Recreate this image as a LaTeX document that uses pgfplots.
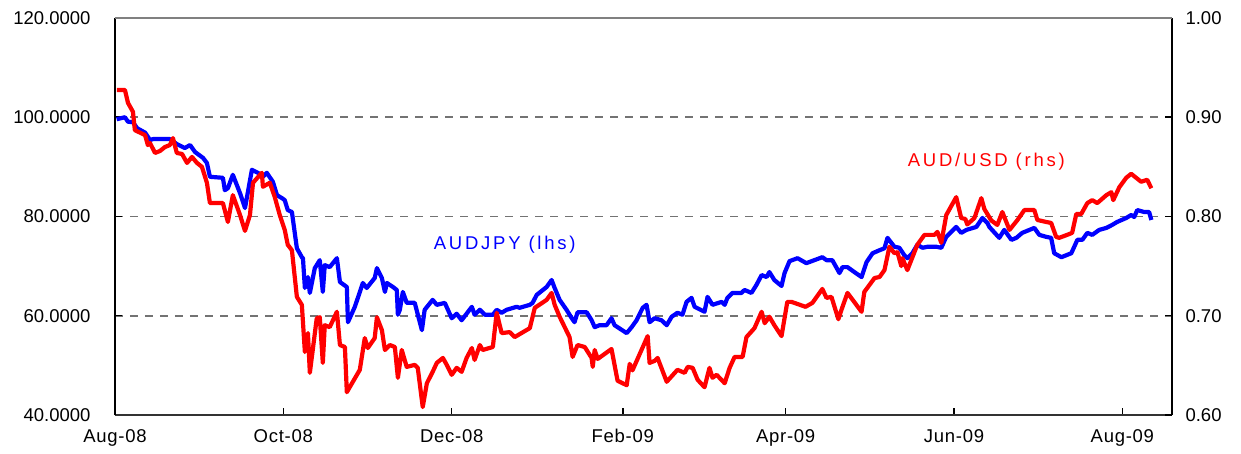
\documentclass[border=0pt]{standalone}
\usepackage{pgfplots}
\pgfplotsset{compat=1.18}
\usepackage{pgfplotstable}
\usepackage{fontspec}
\setmainfont{Liberation Sans}

% days since 1 Aug 2008, AUDJPY (lhs)
\pgfplotstableread{
d v
0.6 99.6
3.6 100.0
4.7 99.1
6.5 99.0
8.0 97.8
10.9 96.9
12.7 95.4
13.8 95.6
19.9 95.6
22.4 94.6
25.3 93.8
27.2 94.4
29.0 93.0
31.9 91.8
33.3 90.8
34.4 88.0
39.1 87.8
39.8 85.3
40.9 85.7
42.7 88.4
45.3 84.7
47.1 81.7
49.6 89.4
51.8 88.8
53.6 88.0
55.0 88.8
57.2 87.0
58.7 84.3
60.5 83.7
61.5 83.3
62.6 81.3
64.1 80.9
65.9 73.6
67.7 71.8
68.1 71.6
68.8 65.6
69.9 67.8
70.6 64.6
72.4 69.6
74.2 71.2
75.3 64.8
76.0 70.2
77.8 69.8
80.4 71.6
81.5 66.8
84.0 65.8
84.4 58.7
86.9 61.8
89.8 66.6
91.2 65.6
94.1 67.6
94.9 69.6
96.7 67.6
97.8 64.8
98.5 66.6
100.7 65.8
102.1 65.2
102.5 60.2
103.2 61.2
104.3 64.8
105.7 62.6
108.6 62.6
111.2 57.1
112.2 61.2
115.1 63.2
116.6 62.2
119.5 62.6
122.0 59.5
123.8 60.4
125.6 59.1
129.3 61.8
130.3 60.2
132.2 61.2
134.0 60.2
136.9 60.2
138.3 61.2
140.1 60.6
141.9 61.2
145.5 61.8
146.6 61.6
150.3 62.2
151.3 62.6
152.8 64.2
156.4 65.8
158.2 67.2
159.3 65.6
161.1 63.2
163.6 61.2
165.5 59.5
166.5 58.7
167.6 60.7
170.9 60.7
172.7 59.1
173.8 57.7
175.6 58.1
178.1 58.1
179.9 59.5
181.0 58.1
182.1 57.7
185.4 56.5
187.2 57.7
189.0 59.1
191.2 61.6
192.6 62.2
193.7 58.7
195.5 59.5
198.0 59.1
199.9 58.1
201.7 59.8
203.8 60.6
205.6 60.2
207.1 62.8
208.9 63.6
210.0 61.8
213.6 60.8
214.7 63.8
216.5 62.2
219.8 62.8
220.9 62.2
221.9 63.6
223.7 64.6
227.0 64.6
228.1 65.2
230.6 64.6
232.4 66.2
234.3 68.2
236.1 67.8
237.1 68.8
238.9 67.2
241.5 66.0
242.6 68.6
244.4 71.0
247.3 71.6
250.5 70.6
256.3 71.8
257.8 71.2
259.9 71.2
262.5 68.6
263.6 69.8
265.4 69.8
267.9 68.8
270.5 67.8
272.3 70.8
274.5 72.6
277.0 73.2
278.8 73.6
279.9 75.7
282.4 73.9
284.2 73.7
286.0 72.2
287.1 71.6
288.9 72.6
290.7 74.3
292.6 73.7
294.4 73.9
297.6 73.9
299.4 73.7
301.2 75.9
304.8 77.9
306.6 76.7
308.5 77.3
312.1 77.9
314.3 79.7
316.1 78.7
316.8 77.9
320.4 75.7
322.2 77.3
324.8 75.3
326.6 75.7
328.7 76.7
333.1 77.7
334.9 76.3
337.4 75.9
339.2 75.7
340.3 72.6
342.9 71.8
346.5 72.6
348.7 75.3
350.5 75.3
352.3 76.7
354.1 76.3
356.6 77.3
359.2 77.7
361.3 78.3
363.1 78.9
366.4 79.7
368.2 80.3
369.3 79.9
370.4 81.3
372.9 80.9
374.7 80.9
375.5 79.3
}\audjpy

% days since 1 Aug 2008, AUD/USD (rhs)
\pgfplotstableread{
d v
0.7 0.9275
3.6 0.9275
4.7 0.9145
6.5 0.9055
7.2 0.8870
10.9 0.8820
11.9 0.8720
12.7 0.8740
14.5 0.8640
16.3 0.8660
18.1 0.8700
19.9 0.8720
21.0 0.8790
22.4 0.8640
24.3 0.8630
26.1 0.8540
27.9 0.8600
29.7 0.8540
31.5 0.8500
33.3 0.8340
34.4 0.8135
39.1 0.8135
40.9 0.7945
42.7 0.8215
45.3 0.8015
47.1 0.7855
48.9 0.8015
50.0 0.8340
53.2 0.8440
53.6 0.8300
56.1 0.8340
57.9 0.8195
59.7 0.8015
61.5 0.7865
62.6 0.7715
64.1 0.7660
65.9 0.7190
67.7 0.7110
68.8 0.6635
69.9 0.6825
70.6 0.6425
73.1 0.6975
74.2 0.6985
75.3 0.6525
76.0 0.6905
77.8 0.6885
80.4 0.7040
81.5 0.6705
83.3 0.6685
84.0 0.6230
88.7 0.6455
90.5 0.6775
91.6 0.6675
94.1 0.6775
94.9 0.6985
96.7 0.6855
97.8 0.6655
99.6 0.6705
101.4 0.6685
102.5 0.6375
103.9 0.6655
105.7 0.6485
108.6 0.6505
109.7 0.6475
111.5 0.6080
113.0 0.6320
115.1 0.6435
116.6 0.6525
118.8 0.6575
120.2 0.6505
122.0 0.6405
123.8 0.6475
125.6 0.6435
127.4 0.6575
129.3 0.6675
130.3 0.6555
132.2 0.6705
133.2 0.6655
136.9 0.6685
138.3 0.7030
140.1 0.6825
143.0 0.6835
144.8 0.6785
150.3 0.6875
152.1 0.7080
156.4 0.7160
158.2 0.7230
159.3 0.7110
161.1 0.6990
164.7 0.6785
165.8 0.6585
167.6 0.6705
170.2 0.6685
172.7 0.6575
173.1 0.6485
173.8 0.6655
174.9 0.6565
179.9 0.6665
182.1 0.6345
185.4 0.6300
186.5 0.6515
187.5 0.6450
193.0 0.6795
193.7 0.6525
195.5 0.6545
196.6 0.6575
199.9 0.6335
203.8 0.6455
206.4 0.6425
207.5 0.6485
209.3 0.6475
211.1 0.6355
213.6 0.6280
215.4 0.6475
216.5 0.6375
218.0 0.6405
220.9 0.6320
222.7 0.6475
224.5 0.6585
227.4 0.6585
228.8 0.6785
231.7 0.6875
234.3 0.7040
235.4 0.6925
237.1 0.6990
238.9 0.6905
241.5 0.6795
243.6 0.7140
245.1 0.7140
250.2 0.7090
252.7 0.7130
256.3 0.7270
257.8 0.7180
259.6 0.7190
262.1 0.6965
263.6 0.7090
265.4 0.7230
270.5 0.7040
271.5 0.7240
275.2 0.7380
277.0 0.7390
278.8 0.7460
280.6 0.7695
282.4 0.7630
283.5 0.7640
284.9 0.7500
285.3 0.7580
287.1 0.7460
290.7 0.7715
293.3 0.7815
296.9 0.7815
298.0 0.7845
299.4 0.7735
301.2 0.8015
304.8 0.8195
306.6 0.7985
308.1 0.7975
308.8 0.7920
311.4 0.7985
313.9 0.8185
315.0 0.8075
317.5 0.7960
319.7 0.7915
321.5 0.8045
324.1 0.7865
327.0 0.7965
329.5 0.8065
333.1 0.8065
334.2 0.7965
337.4 0.7945
339.2 0.7935
341.0 0.7795
342.1 0.7785
345.0 0.7815
346.8 0.7835
348.3 0.8025
350.1 0.8025
352.3 0.8135
354.1 0.8165
355.9 0.8135
359.2 0.8215
361.0 0.8245
361.7 0.8165
363.9 0.8295
366.4 0.8390
368.2 0.8430
370.0 0.8390
371.8 0.8350
374.0 0.8370
375.5 0.8285
}\audusd

\pgfplotsset{
  common/.style={
    scale only axis, width=1057bp, height=397bp,
    xmin=0, xmax=383,
    tick align=inside, major tick length=7bp,
    every tick/.style={black, line width=1.5bp},
    /pgf/number format/assume math mode=true,
    tick label style={font=\fontsize{18.5bp}{22bp}\selectfont},
  },
}

\begin{document}
\begin{tikzpicture}
\begin{axis}[common,
  axis x line*=bottom, axis y line*=left,
  x axis line style={draw=black!80, line width=2bp, -},
  y axis line style={draw=black, line width=2.5bp, -},
  ymin=40, ymax=120, ytick={40,60,80,100,120},
  yticklabel style={/pgf/number format/fixed, /pgf/number format/fixed zerofill,
    /pgf/number format/precision=4, xshift=-21bp},
  xtick={0,61,122,184,243,304,365},
  xticklabels={Aug-08,Oct-08,Dec-08,Feb-09,Apr-09,Jun-09,Aug-09},
  xticklabel style={yshift=-11bp, font=\fontsize{18.5bp}{22bp}\selectfont\addfontfeature{LetterSpace=4}},
  ymajorgrids, grid style={black!55, line width=1.6bp, dash pattern=on 8bp off 7bp},
]
\addplot[blue, line width=4.2bp, line join=round, no markers] table[x=d, y=v] {\audjpy};
\node[blue, font=\fontsize{18.5bp}{22bp}\selectfont\addfontfeature{LetterSpace=15}] at (axis cs:141.2,74.3) {AUDJPY (lhs)};
\end{axis}
\begin{axis}[common,
  axis x line=none, axis y line*=right,
  y axis line style={draw=black, line width=2.5bp, -},
  ymin=0.6, ymax=1.0, ytick={0.6,0.7,0.8,0.9,1.0},
  yticklabel style={/pgf/number format/fixed, /pgf/number format/fixed zerofill,
    /pgf/number format/precision=2, xshift=10bp},
]
\addplot[red, line width=4.2bp, line join=round, no markers] table[x=d, y=v] {\audusd};
\node[red, font=\fontsize{18.5bp}{22bp}\selectfont\addfontfeature{LetterSpace=15}] at (axis cs:315.7,0.855) {AUD/USD (rhs)};
\end{axis}
\draw[gray, line width=1.5bp] (current axis.north west) -- (current axis.north east);
\pgfresetboundingbox
\path (current axis.south west) ++(-115bp,-39bp) rectangle ++(1241bp,454bp);
\end{tikzpicture}
\end{document}
